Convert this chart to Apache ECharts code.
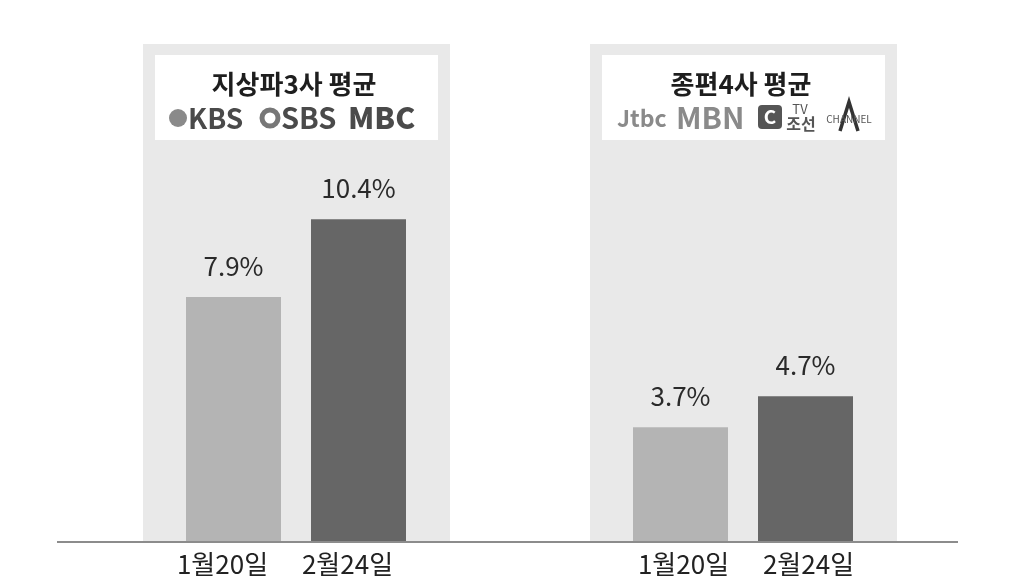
<!DOCTYPE html>
<html>
<head>
<meta charset="utf-8">
<script src="https://cdn.jsdelivr.net/npm/echarts@6/dist/echarts.min.js"></script>
<style>html,body{margin:0;padding:0;background:#fff;}#c{width:1021px;height:580px;}</style>
</head>
<body>
<div id="c"></div>
<script>
const categories = ['1월20일', '2월24일'];
const groupTitles = ['지상파3사 평균', '종편4사 평균'];
const jan20 = [7.9, 3.7];
const feb24 = [10.4, 4.7];

const FONT = '"Noto Sans CJK KR", "Noto Sans", sans-serif';
const barColors = ['#b4b4b4', '#666666'];
const gridLefts = [171, 618];
const labelPads = [[0, 22, 0, 0], [0, 0, 0, 6]];
const chart = echarts.init(document.getElementById('c'));

const grids = [], xAxes = [], yAxes = [], series = [];
for (let g = 0; g < 2; g++) {
  grids.push({ left: gridLefts[g], width: 250, top: 45.6, height: 496.4 });
  xAxes.push({
    type: 'category', gridIndex: g, data: categories,
    axisLine: { show: false }, axisTick: { show: false },
    axisLabel: { color: '#222', fontSize: 26, fontFamily: FONT, margin: 9, padding: labelPads[g] }
  });
  yAxes.push({ type: 'value', gridIndex: g, min: 0, max: 16, show: false, splitLine: { show: false } });
  series.push({
    type: 'bar', xAxisIndex: g, yAxisIndex: g, barWidth: 95, z: 5,
    data: [jan20[g], feb24[g]].map((v, i) => ({ value: v, itemStyle: { color: barColors[i] } })),
    label: { show: true, position: 'top', distance: 18, formatter: '{c}%', color: '#2a2a2a', fontSize: 26, fontFamily: FONT }
  });
}

const panelX = [143, 590];
const graphics = [];
for (let g = 0; g < 2; g++) {
  const px = panelX[g];
  graphics.push({ type: 'rect', z: -10, shape: { x: px, y: 44, width: 307, height: 498 }, style: { fill: '#e9e9e9' } });
  graphics.push({ type: 'rect', z: -9, shape: { x: px + 12, y: 55, width: 283, height: 85 }, style: { fill: '#ffffff' } });
  graphics.push({ type: 'text', z: -8, x: px + 151, y: 84, style: { text: groupTitles[g], font: 'bold 26px ' + FONT, fill: '#1e1e1e', textAlign: 'center', textVerticalAlign: 'middle' } });
}
// logos row, panel 1
graphics.push({ type: 'circle', z: -8, shape: { cx: 178, cy: 118, r: 9 }, style: { fill: '#8a8a8a' } });
graphics.push({ type: 'text', z: -8, x: 188, y: 118, style: { text: 'KBS', font: 'bold 28px ' + FONT, fill: '#4a4a4a', textVerticalAlign: 'middle' } });
graphics.push({ type: 'circle', z: -8, shape: { cx: 270, cy: 118, r: 8 }, style: { fill: 'none', stroke: '#777', lineWidth: 5 } });
graphics.push({ type: 'text', z: -8, x: 281, y: 118, style: { text: 'SBS', font: 'bold 29px ' + FONT, fill: '#4a4a4a', textVerticalAlign: 'middle' } });
graphics.push({ type: 'text', z: -8, x: 348, y: 118, style: { text: 'MBC', font: '900 30px ' + FONT, fill: '#4a4a4a', textVerticalAlign: 'middle' } });
// logos row, panel 2
graphics.push({ type: 'text', z: -8, x: 617, y: 118, style: { text: 'Jtbc', font: 'bold 23px ' + FONT, fill: '#8a8a8a', textVerticalAlign: 'middle' } });
graphics.push({ type: 'text', z: -8, x: 676, y: 118, style: { text: 'MBN', font: 'bold 30px ' + FONT, fill: '#8a8a8a', textVerticalAlign: 'middle' } });
graphics.push({ type: 'rect', z: -8, shape: { x: 758, y: 105, width: 24, height: 24, r: 4 }, style: { fill: '#555' } });
graphics.push({ type: 'text', z: -7, x: 770, y: 117, style: { text: 'C', font: 'bold 19px ' + FONT, fill: '#fff', textAlign: 'center', textVerticalAlign: 'middle' } });
graphics.push({ type: 'text', z: -8, x: 800, y: 109, style: { text: 'TV', font: '13px ' + FONT, fill: '#555', textAlign: 'center', textVerticalAlign: 'middle' } });
graphics.push({ type: 'text', z: -8, x: 801, y: 124, style: { text: '조선', font: 'bold 16px ' + FONT, fill: '#555', textAlign: 'center', textVerticalAlign: 'middle' } });
graphics.push({ type: 'polyline', z: -8, shape: { points: [[840, 131], [849, 102], [858, 131]] }, style: { stroke: '#333', lineWidth: 3.5, fill: 'none' } });
graphics.push({ type: 'text', z: -7, x: 849, y: 119, style: { text: 'CHANNEL', font: '10px ' + FONT, fill: '#555', textAlign: 'center', textVerticalAlign: 'middle' } });
// baseline
graphics.push({ type: 'line', z: 10, shape: { x1: 57, y1: 542, x2: 958, y2: 542 }, style: { stroke: '#8c8c8c', lineWidth: 2 } });

chart.setOption({
  backgroundColor: '#ffffff',
  animation: false,
  grid: grids, xAxis: xAxes, yAxis: yAxes, series: series,
  graphic: graphics
});
</script>
</body>
</html>
